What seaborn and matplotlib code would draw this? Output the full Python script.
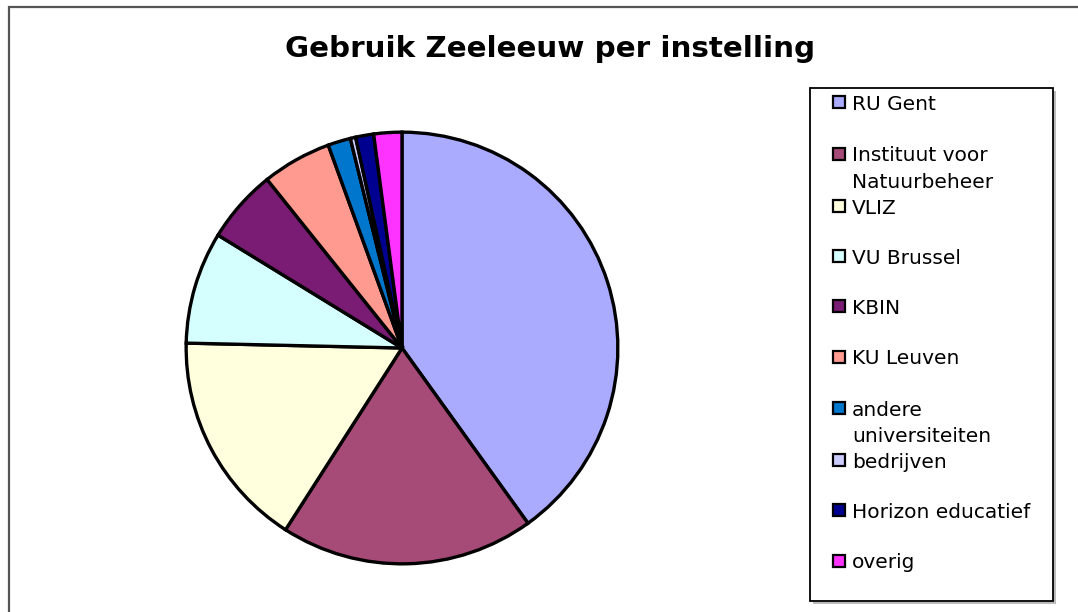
import matplotlib
matplotlib.use("Agg")
import matplotlib.pyplot as plt
from matplotlib.patches import Rectangle
import seaborn as sns

# ---- data ----
categories = ["RU Gent", "Instituut voor\nNatuurbeheer", "VLIZ", "VU Brussel", "KBIN",
              "KU Leuven", "andere\nuniversiteiten", "bedrijven", "Horizon educatief", "overig"]
shares = [40.1, 19.0, 16.3, 8.4, 5.5, 5.2, 1.7, 0.4, 1.35, 2.1]
colors_hex = ["#AAAAFF", "#A64B78", "#FFFFDD", "#D5FFFF", "#7B1C74",
              "#FF9A90", "#0077CC", "#CCCCFF", "#000090", "#FF33FF"]
title = "Gebruik Zeeleeuw per instelling"

sns.set_style("white")
plt.rcParams["font.family"] = ["DejaVu Sans"]
palette = sns.color_palette(colors_hex)

W, H = 1078, 612
fig = plt.figure(figsize=(W / 100, H / 100), dpi=100)
fig.patch.set_facecolor("white")

def fx(px):
    return px / W

def fy(py):
    return 1 - py / H

# outer chart frame (extends past right/bottom edges)
fig.patches.append(Rectangle((fx(8.5), fy(700)), fx(1200), fy(6.5) - fy(700),
                             transform=fig.transFigure, fill=False,
                             edgecolor="#555555", linewidth=1.6, zorder=0))

# pie
cx, cy, r = 402, 348, 218
ax = fig.add_axes([fx(cx - r), fy(cy + r), fx(2 * r), (2 * r) / H])
ax.pie(shares, colors=palette, startangle=90, counterclock=False,
       wedgeprops=dict(edgecolor="black", linewidth=2.4), radius=1.0)
ax.set_xlim(-1.01, 1.01)
ax.set_ylim(-1.01, 1.01)
ax.set_aspect("equal")
ax.axis("off")

fig.text(fx(550), fy(57), title, ha="center", va="baseline",
         fontsize=21.2, fontweight="bold", color="black")

# legend box with shadow
lx0, ly0, lx1, ly1 = 810, 88, 1053, 601
fig.patches.append(Rectangle((fx(lx0 + 3), fy(ly1 + 3)), fx(lx1 - lx0), fy(ly0) - fy(ly1),
                             transform=fig.transFigure, facecolor="#BBBBBB",
                             edgecolor="none", zorder=1))
fig.patches.append(Rectangle((fx(lx0), fy(ly1)), fx(lx1 - lx0), fy(ly0) - fy(ly1),
                             transform=fig.transFigure, facecolor="white",
                             edgecolor="black", linewidth=1.3, zorder=2))

centers = [102, 154, 206, 256, 306, 357, 408, 460, 510, 561]
line_step = 26
msize = 12
for lab, col, yc in zip(categories, palette, centers):
    fig.patches.append(Rectangle((fx(833), fy(yc + msize / 2)), fx(msize), msize / H,
                                 transform=fig.transFigure, facecolor=col,
                                 edgecolor="black", linewidth=1.6, zorder=3))
    for i, line in enumerate(lab.split("\n")):
        fig.text(fx(852), fy(yc + 7.5 + i * line_step), line, ha="left",
                 va="baseline", fontsize=14.5, color="black", zorder=4)

fig.savefig("out.png", dpi=100, facecolor="white")
